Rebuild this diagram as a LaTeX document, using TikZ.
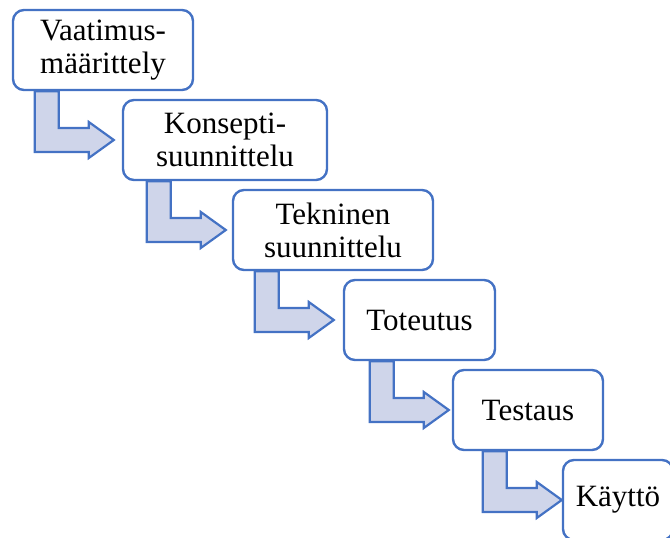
\documentclass[tikz,border=0pt]{standalone}
\usepackage{fontspec}
\setmainfont{Liberation Serif}
\usetikzlibrary{calc}
\definecolor{boxblue}{HTML}{4472C4}
\definecolor{arrowfill}{HTML}{CFD5EA}

% bent arrow: from box #1 down and right towards box #2, shaft offset #3
\newcommand{\steparrow}[3]{%
  \path ([xshift=#3]#1.south west) coordinate (s) (s |- #2.west) coordinate (m);
  \draw[bent] (s) -- ([yshift=-12]m) -- ([xshift=54,yshift=-12]m)
    -- ([xshift=54,yshift=-18]m) -- ([xshift=79]m) -- ([xshift=54,yshift=18]m)
    -- ([xshift=54,yshift=12]m) -- ([xshift=24,yshift=12]m) -- ([xshift=24]s) -- cycle;}

\begin{document}
\begin{tikzpicture}[x=1pt,y=-1pt,
  phase/.style={draw=boxblue, line width=2.4pt, rounded corners=11pt, fill=white,
    align=center, inner sep=0pt, minimum height=80pt,
    font=\fontsize{31}{33}\selectfont},
  bent/.style={draw=boxblue, line width=2.2pt, fill=arrowfill, line join=miter}]
  \useasboundingbox (0,0) rectangle (670,538);
  \clip (0,0) rectangle (670,538);

  \node[phase, minimum width=180pt] (req) at (103,50) {Vaatimus-\\määrittely};
  \node[phase, minimum width=204pt] (con) at (225,140) {Konsepti-\\suunnittelu};
  \node[phase, minimum width=200pt] (tec) at (333,230) {Tekninen\\suunnittelu};
  \node[phase, minimum width=151pt] (imp) at (419.5,320) {Toteutus};
  \node[phase, minimum width=150pt] (tst) at (528,410) {Testaus};
  \node[phase, minimum width=110pt] (use) at (618,500) {Käyttö};

  \steparrow{req}{con}{23}
  \steparrow{con}{tec}{25}
  \steparrow{tec}{imp}{23}
  \steparrow{imp}{tst}{27}
  \steparrow{tst}{use}{31}
\end{tikzpicture}
\end{document}
